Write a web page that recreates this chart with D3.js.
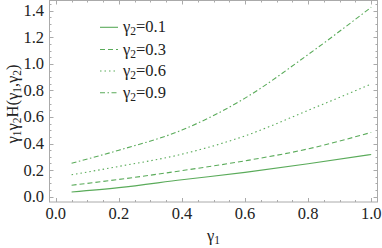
<!DOCTYPE html>
<html>
<head>
<meta charset="utf-8">
<script src="https://cdn.jsdelivr.net/npm/d3@7"></script>
<style>
  body { margin: 0; background: #fff; }
</style>
</head>
<body>
<div id="chart"></div>
<script>
// gamma1 sample points and the curve values for each gamma2
var gamma1 = [0.05, 0.2, 0.4, 0.6, 0.8, 1.0];
var g01 = [0.035, 0.068, 0.127, 0.183, 0.248, 0.318];
var g03 = [0.086, 0.130, 0.196, 0.270, 0.360, 0.484];
var g06 = [0.165, 0.228, 0.320, 0.458, 0.650, 0.848];
var g09 = [0.252, 0.350, 0.502, 0.742, 1.070, 1.426];
var seriesNames = ["0.1", "0.3", "0.6", "0.9"];
var xTicks = [0.0, 0.2, 0.4, 0.6, 0.8, 1.0];
var yTicks = [0.0, 0.2, 0.4, 0.6, 0.8, 1.0, 1.2, 1.4];

function drawChart() {
    var width = 382, height = 248;
    // plot frame edges
    var fLeft = 49.5, fRight = 377.5, fTop = 0.5, fBottom = 202;
    var green = "#5aab5a";
    var frameColor = "#aaaaaa";
    var font = "'Liberation Serif', 'Times New Roman', serif";
    var fs = "16.5px", subFs = "11.5px";

    var svg = d3.select("#chart")
        .append("svg")
        .attr("width", width)
        .attr("height", height);

    var x = d3.scaleLinear().domain([-0.02, 1.02]).range([fLeft, fRight]);
    var y = d3.scaleLinear().domain([-0.04, 1.477]).range([fBottom, fTop]);

    // minor ticks every 0.05
    var xMinor = d3.range(0, 1.0001, 0.05);
    var yMinor = d3.range(0, 1.4501, 0.05);

    // frame
    svg.append("rect")
        .attr("x", fLeft)
        .attr("y", fTop)
        .attr("width", fRight - fLeft)
        .attr("height", fBottom - fTop)
        .attr("fill", "none")
        .attr("stroke", frameColor)
        .attr("stroke-width", 1);

    // ticks on all four sides, pointing inward
    function isMajor(v) { return Math.abs(v * 5 - Math.round(v * 5)) < 1e-6; }

    xMinor.forEach(function (v) {
        var len = isMajor(v) ? 4 : 2;
        var px = Math.round(x(v)) + 0.5;
        svg.append("line").attr("x1", px).attr("x2", px)
            .attr("y1", fBottom).attr("y2", fBottom - len)
            .attr("stroke", frameColor);
        svg.append("line").attr("x1", px).attr("x2", px)
            .attr("y1", fTop).attr("y2", fTop + len)
            .attr("stroke", frameColor);
    });
    yMinor.forEach(function (v) {
        var len = isMajor(v) ? 4 : 2;
        var py = Math.round(y(v)) + 0.5;
        svg.append("line").attr("y1", py).attr("y2", py)
            .attr("x1", fLeft).attr("x2", fLeft + len)
            .attr("stroke", frameColor);
        svg.append("line").attr("y1", py).attr("y2", py)
            .attr("x1", fRight).attr("x2", fRight - len)
            .attr("stroke", frameColor);
    });

    // tick labels
    xTicks.forEach(function (t) {
        svg.append("text")
            .attr("x", x(t))
            .attr("y", 218.5)
            .attr("text-anchor", "middle")
            .attr("font-family", font)
            .attr("font-size", fs)
            .attr("fill", "#222")
            .text(t.toFixed(1));
    });
    yTicks.forEach(function (t) {
        svg.append("text")
            .attr("x", 44)
            .attr("y", y(t) + 5.5)
            .attr("text-anchor", "end")
            .attr("font-family", font)
            .attr("font-size", fs)
            .attr("fill", "#222")
            .text(t.toFixed(1));
    });

    // axis titles
    var xt = svg.append("text")
        .attr("x", (fLeft + fRight) / 2)
        .attr("y", 241)
        .attr("text-anchor", "middle")
        .attr("font-family", font)
        .attr("font-size", fs)
        .attr("fill", "#222");
    xt.append("tspan").text("γ");
    xt.append("tspan").attr("dy", 3).attr("font-size", subFs).text("1");

    var yt = svg.append("text")
        .attr("transform", "translate(17.5,104) rotate(-90)")
        .attr("text-anchor", "middle")
        .attr("font-family", font)
        .attr("font-size", fs)
        .attr("fill", "#222");
    // pieces of the title, subscripts marked with sub: true
    var yTitle = [
        { t: "γ" }, { t: "1", sub: true }, { t: "γ" }, { t: "2", sub: true },
        { t: "H(γ" }, { t: "1", sub: true }, { t: ",γ" }, { t: "2", sub: true }, { t: ")" }
    ];
    var prevSub = false;
    yTitle.forEach(function (p) {
        var ts = yt.append("tspan").text(p.t);
        if (p.sub) ts.attr("font-size", subFs);
        if (p.sub && !prevSub) ts.attr("dy", 3);
        if (!p.sub && prevSub) ts.attr("dy", -3);
        prevSub = !!p.sub;
    });

    // curves
    var series = [g01, g03, g06, g09];
    var dashes = [null, "5,3", "1.5,3", "5,2.5,1.5,2.5"];

    var line = d3.line()
        .x(function (d) { return x(d[0]); })
        .y(function (d) { return y(d[1]); })
        .curve(d3.curveMonotoneX);

    series.forEach(function (vals, i) {
        var pts = gamma1.map(function (g, j) { return [g, vals[j]]; });
        svg.append("path")
            .datum(pts)
            .attr("d", line)
            .attr("fill", "none")
            .attr("stroke", green)
            .attr("stroke-width", 1.1)
            .attr("stroke-dasharray", dashes[i]);
    });

    // legend
    var legendX = 100, legendY = [27.3, 49.5, 71, 92.7];
    seriesNames.forEach(function (name, i) {
        svg.append("line")
            .attr("x1", legendX)
            .attr("x2", legendX + 18)
            .attr("y1", legendY[i])
            .attr("y2", legendY[i])
            .attr("stroke", green)
            .attr("stroke-width", 1.1)
            .attr("stroke-dasharray", dashes[i]);
        var lt = svg.append("text")
            .attr("x", legendX + 23)
            .attr("y", legendY[i] + 5)
            .attr("font-family", font)
            .attr("font-size", fs)
            .attr("fill", "#222");
        lt.append("tspan").text("γ");
        lt.append("tspan").attr("dy", 3).attr("font-size", subFs).text("2");
        lt.append("tspan").attr("dy", -3).text("=" + name);
    });
}

drawChart();
</script>
</body>
</html>
